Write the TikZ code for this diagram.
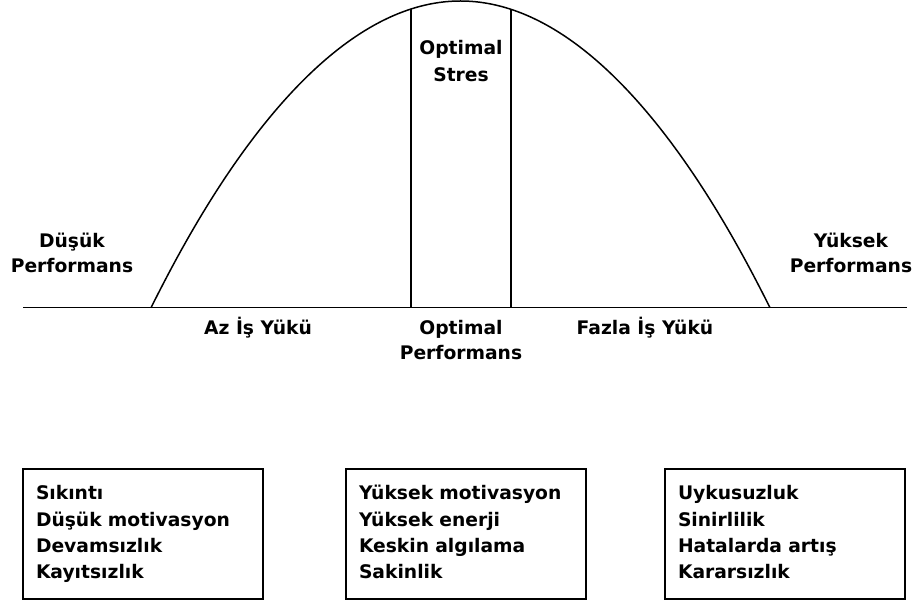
\documentclass[tikz,border=0pt]{standalone}
\usepackage{fontspec}
\setmainfont{DejaVu Sans}
\begin{document}
\begin{tikzpicture}[x=1pt,y=1pt,
  lbl/.style={font=\bfseries\fontsize{18.7}{25}\selectfont, align=center, inner sep=0pt},
  infobox/.style={draw, line width=1.6pt, minimum width=240pt, minimum height=130pt,
    text width=214pt, inner xsep=13pt, align=left,
    font=\bfseries\fontsize{18.7}{26.3}\selectfont},
  ln/.style={line width=1.5pt}]
\useasboundingbox (0,0) rectangle (917,603);
% baseline and curve
\coordinate (bl) at (23,295.3);
\coordinate (br) at (907,295.3);
\coordinate (fl) at (151,295.3);
\coordinate (fr) at (770,295.3);
\coordinate (top) at (460.5,602);
\coordinate (v1t) at (411,594.2);
\coordinate (v1b) at (411,295.3);
\coordinate (v2t) at (511,593.8);
\coordinate (v2b) at (511,295.3);
\draw[ln] (bl) -- (br);
\draw[ln] (fl) parabola bend (top) (fr);
\draw[ln] (v1t) -- (v1b);
\draw[ln] (v2t) -- (v2b);
% labels
\node[lbl] (dusuk) at (72,350.5) {Düşük\\Performans};
\node[lbl] (yuksek) at (851,350.5) {Yüksek\\Performans};
\node[lbl] (az) at (258,275) {Az İş Yükü};
\node[lbl] (fazla) at (645,275) {Fazla İş Yükü};
\node[lbl] (optperf) at (461,262.5) {Optimal\\Performans};
\node[lbl, font=\bfseries\fontsize{18.7}{27}\selectfont] (optstres) at (461,541.5) {Optimal\\Stres};
% boxes
\node[infobox] (b1) at (143,69) {\strut Sıkıntı\\Düşük motivasyon\\Devamsızlık\\Kayıtsızlık\strut};
\node[infobox] (b2) at (466,69) {\strut Yüksek motivasyon\\Yüksek enerji\\Keskin algılama\\Sakinlik\strut};
\node[infobox] (b3) at (785,69) {\strut Uykusuzluk\\Sinirlilik\\Hatalarda artış\\Kararsızlık\strut};
\end{tikzpicture}
\end{document}
